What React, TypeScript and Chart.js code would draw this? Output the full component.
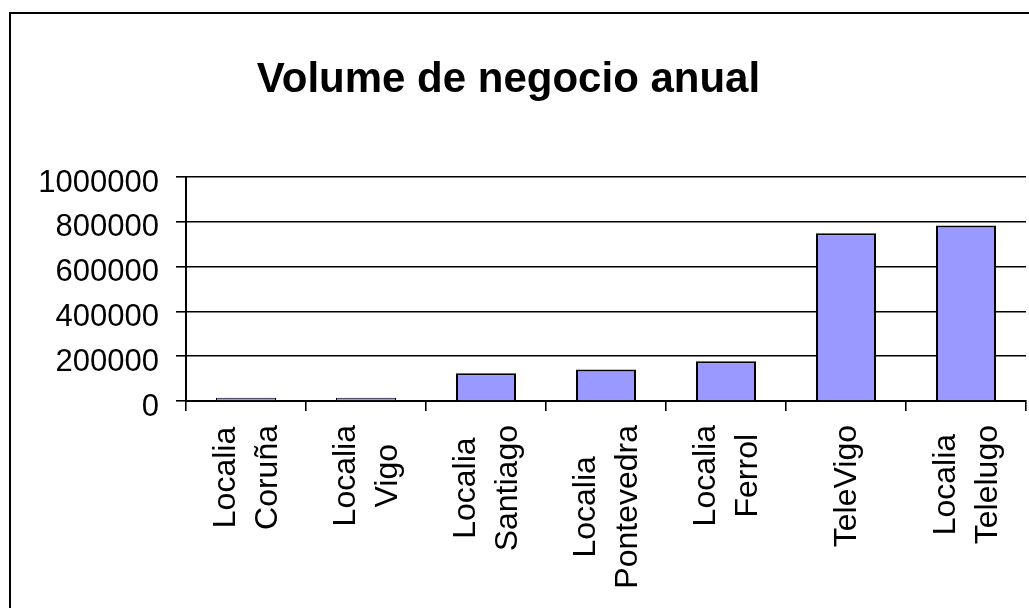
import React, { useEffect, useRef } from "react";
import { Chart, registerables } from "chart.js";

Chart.register(...registerables);

const chartTitle = "Volume de negocio anual";
const categories: string[][] = [
  ["Localia", "Coruña"],
  ["Localia", "Vigo"],
  ["Localia", "Santiago"],
  ["Localia", "Pontevedra"],
  ["Localia", "Ferrol"],
  ["TeleVigo"],
  ["Localia", "Telelugo"],
];
const volumeValues = [15000, 14000, 124000, 141000, 177000, 749000, 783000];
const yTicks = [0, 200000, 400000, 600000, 800000, 1000000];

const FONT = "'Liberation Sans', Arial, Helvetica, sans-serif";

const decorPlugin = {
  id: "decor",
  beforeDraw(chart: any) {
    const ctx = chart.ctx;
    ctx.save();
    ctx.fillStyle = "#ffffff";
    ctx.fillRect(0, 0, chart.width, chart.height);
    ctx.fillStyle = "#000000";
    ctx.fillRect(9, 12, 2, chart.height);
    ctx.fillRect(9, 12, chart.width, 2);
    ctx.restore();
  },
  afterDraw(chart: any) {
    const ctx = chart.ctx;
    ctx.save();
    // title
    ctx.fillStyle = "#000000";
    ctx.font = `bold 42px ${FONT}`;
    ctx.textAlign = "center";
    ctx.textBaseline = "alphabetic";
    ctx.fillText(chartTitle, 508.5, 92);
    // x category labels, rotated, each line centred
    const xs = chart.scales.x;
    const lh = 41.5;
    ctx.font = `32px ${FONT}`;
    categories.forEach((lines, i) => {
      const cx = xs.getPixelForValue(i);
      const maxW = Math.max(...lines.map((l) => ctx.measureText(l).width));
      const cy = xs.top + 24 + maxW / 2;
      lines.forEach((line, j) => {
        const bx = cx + (j - (lines.length - 1) / 2) * lh + 10;
        ctx.save();
        ctx.translate(bx, cy);
        ctx.rotate(-Math.PI / 2);
        ctx.textAlign = "center";
        ctx.textBaseline = "alphabetic";
        ctx.fillText(line, 0, 0);
        ctx.restore();
      });
    });
    ctx.restore();
  },
};

export default function App() {
  const ref = useRef<HTMLCanvasElement | null>(null);

  useEffect(() => {
    if (!ref.current) return;
    const chart = new Chart(ref.current, {
      type: "bar",
      data: {
        labels: categories.map((c) => c.join(" ")),
        datasets: [
          {
            label: chartTitle,
            data: volumeValues,
            backgroundColor: "#9999FF",
            borderColor: "#000000",
            borderWidth: (c: any) => (c.raw < 50000 ? 1 : 2),
            categoryPercentage: 1,
            barPercentage: 0.5,
          },
        ],
      },
      options: {
        animation: false,
        responsive: true,
        maintainAspectRatio: false,
        layout: { padding: { left: 0, right: 3, top: 177, bottom: 0 } },
        plugins: {
          legend: { display: false },
          title: { display: false },
          tooltip: { enabled: false },
        },
        scales: {
          x: {
            ticks: { display: false },
            grid: {
              offset: true,
              drawOnChartArea: false,
              drawTicks: true,
              tickLength: 10,
              color: "#000000",
              lineWidth: 1.6,
            },
            border: { color: "#000000", width: 2 },
            afterFit: (s: any) => {
              s.height = 207;
            },
          },
          y: {
            min: 0,
            max: 1000000,
            afterBuildTicks: (s: any) => {
              s.ticks = yTicks.map((v) => ({ value: v }));
            },
            ticks: {
              color: "#000000",
              font: { family: FONT, size: 31 },
              padding: 17,
              labelOffset: 6,
              callback: (v: any) => String(v),
            },
            grid: {
              color: "#000000",
              lineWidth: 1.6,
              tickLength: 10,
              drawTicks: true,
            },
            border: { color: "#000000", width: 2 },
            afterFit: (s: any) => {
              s.width = 186;
            },
          },
        },
      },
      plugins: [decorPlugin],
    });
    return () => chart.destroy();
  }, []);

  return (
    <div
      style={{
        position: "fixed",
        left: 0,
        top: 0,
        width: "1029px",
        height: "608px",
        background: "#ffffff",
      }}
    >
      <canvas ref={ref} />
    </div>
  );
}
